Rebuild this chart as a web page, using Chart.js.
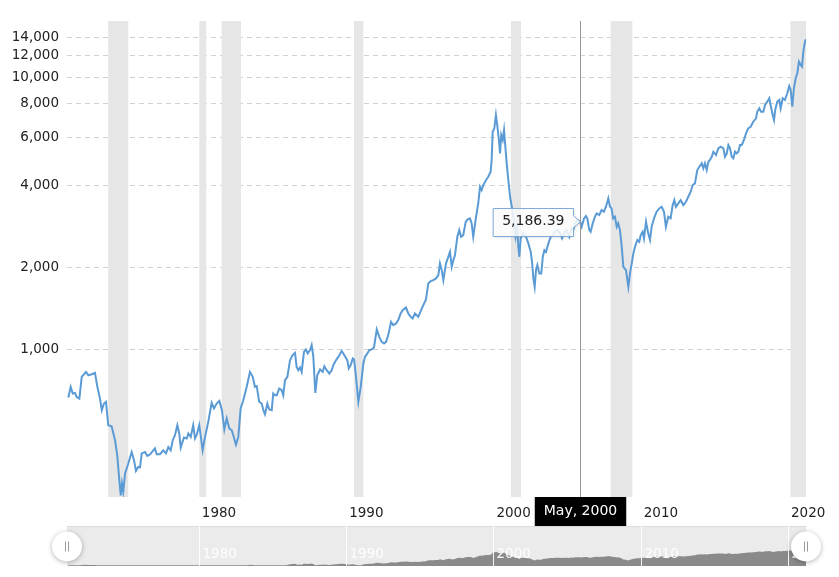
<!DOCTYPE html>
<html>
<head>
<meta charset="utf-8">
<script src="https://cdn.jsdelivr.net/npm/chart.js@4.4.1/dist/chart.umd.min.js"></script>
<style>
  html, body { margin: 0; padding: 0; background: #fff; }
  canvas { display: block; }
</style>
</head>
<body>
<canvas id="chart" width="839" height="577"></canvas>
<script>
// dates as decimal years
const years = [
  1971.14,1971.30,1971.44,1971.59,1971.71,1971.89,1972.05,1972.34,1972.50,1972.73,
  1972.95,1973.11,1973.29,1973.41,1973.56,1973.70,1973.85,1974.08,1974.31,1974.46,
  1974.60,1974.70,1974.78,1974.87,1974.99,1975.21,1975.44,1975.60,1975.73,1975.89,
  1976.01,1976.12,1976.35,1976.50,1976.68,1977.02,1977.14,1977.36,1977.59,1977.77,
  1977.93,1978.09,1978.23,1978.38,1978.54,1978.67,1978.77,1978.99,1979.18,1979.29,
  1979.45,1979.62,1979.74,1979.85,1980.03,1980.26,1980.42,1980.64,1980.87,1981.03,
  1981.21,1981.39,1981.57,1981.73,1981.89,1982.07,1982.23,1982.34,1982.52,1982.68,
  1982.84,1983.02,1983.25,1983.47,1983.66,1983.81,1983.93,1984.10,1984.27,1984.38,
  1984.49,1984.65,1984.78,1984.95,1985.05,1985.17,1985.29,1985.46,1985.63,1985.73,
  1985.85,1986.01,1986.19,1986.37,1986.53,1986.64,1986.75,1986.87,1986.98,1987.14,
  1987.27,1987.39,1987.55,1987.66,1987.77,1987.91,1988.04,1988.23,1988.41,1988.52,
  1988.68,1988.86,1989.02,1989.13,1989.31,1989.47,1989.70,1989.92,1990.08,1990.18,
  1990.31,1990.45,1990.54,1990.67,1990.83,1990.99,1991.17,1991.28,1991.44,1991.57,
  1991.74,1991.89,1992.08,1992.25,1992.41,1992.57,1992.71,1992.86,1993.05,1993.20,
  1993.39,1993.54,1993.70,1993.84,1994.06,1994.22,1994.38,1994.52,1994.67,1994.90,
  1995.15,1995.42,1995.58,1995.74,1995.92,1996.10,1996.26,1996.37,1996.49,1996.60,
  1996.78,1996.90,1997.05,1997.17,1997.28,1997.39,1997.55,1997.68,1997.80,1997.95,
  1998.12,1998.25,1998.41,1998.52,1998.63,1998.82,1998.97,1999.09,1999.20,1999.31,
  1999.50,1999.65,1999.81,1999.88,1999.95,2000.06,2000.17,2000.26,2000.36,2000.45,
  2000.53,2000.63,2000.72,2000.81,2000.90,2001.01,2001.13,2001.26,2001.40,2001.50,
  2001.60,2001.69,2001.76,2001.85,2002.03,2002.21,2002.37,2002.53,2002.62,2002.71,
  2002.80,2002.89,2002.98,2003.12,2003.25,2003.35,2003.46,2003.57,2003.73,2003.89,
  2004.07,2004.18,2004.34,2004.52,2004.66,2004.79,2004.97,2005.15,2005.31,2005.42,
  2005.54,2005.69,2005.88,2005.99,2006.15,2006.28,2006.37,2006.51,2006.60,2006.74,
  2006.89,2007.01,2007.18,2007.34,2007.50,2007.64,2007.80,2007.91,2008.02,2008.13,
  2008.25,2008.37,2008.47,2008.59,2008.71,2008.82,2009.00,2009.16,2009.27,2009.39,
  2009.50,2009.61,2009.77,2009.90,2010.00,2010.13,2010.22,2010.36,2010.51,2010.63,
  2010.74,2010.90,2011.08,2011.26,2011.42,2011.58,2011.71,2011.87,2012.03,2012.17,
  2012.28,2012.39,2012.55,2012.71,2012.89,2013.07,2013.23,2013.39,2013.53,2013.68,
  2013.84,2013.98,2014.14,2014.25,2014.36,2014.48,2014.59,2014.70,2014.82,2014.93,
  2015.11,2015.27,2015.43,2015.61,2015.72,2015.84,2015.95,2016.06,2016.18,2016.29,
  2016.40,2016.52,2016.63,2016.74,2016.86,2017.01,2017.15,2017.30,2017.46,2017.64,
  2017.83,2017.91,2018.05,2018.17,2018.32,2018.44,2018.59,2018.73,2018.84,2018.96,
  2019.05,2019.13,2019.27,2019.41,2019.50,2019.64,2019.79,2019.95,2020.08,2020.18,
  2020.29,2020.40,2020.52,2020.63,2020.74,2020.86,2020.95,2021.04,2021.15,2021.22
];
const values = [
  666,729,689,692,669,660,793,827,804,811,
  820,729,660,598,633,642,527,522,464,409,
  331,291,322,300,350,381,420,392,358,370,
  369,415,420,406,411,433,412,412,426,415,
  438,426,464,484,527,491,436,475,471,491,
  477,527,471,484,527,426,477,542,637,607,
  633,647,598,508,558,512,505,484,447,477,
  607,651,729,827,793,729,733,642,633,598,
  578,633,602,598,689,679,679,719,709,679,
  771,793,913,953,971,863,839,859,827,980,
  1000,967,994,1037,945,692,804,844,827,868,
  839,816,839,876,913,939,988,945,913,852,
  876,927,919,793,642,729,888,939,967,994,
  1000,1017,1184,1113,1066,1052,1066,1129,1264,1228,
  1246,1282,1356,1395,1427,1356,1318,1300,1356,1318,
  1419,1527,1748,1783,1798,1824,1876,2071,1957,1798,
  2071,2161,2285,2013,2130,2222,2594,2745,2594,2632,
  2945,3006,3031,2905,2594,3073,3443,3961,3853,4018,
  4193,4311,4498,4966,6310,6494,7269,6677,5967,5256,
  6137,5883,6402,5558,4829,4193,3639,3308,2938,2610,
  2840,2384,2190,2559,2670,2594,2453,2285,2100,1824,
  1699,1957,2041,1903,1903,2190,2317,2285,2453,2594,
  2632,2706,2745,2670,2559,2670,2745,2594,2786,2745,
  2905,2987,2945,2822,3031,3091,3031,2745,2706,2905,
  3073,3162,3117,3252,3206,3345,3591,3345,3299,3031,
  3073,2822,2905,2745,2384,2013,1957,1699,1903,2071,
  2254,2384,2523,2487,2632,2706,2559,2945,2670,2523,
  2822,3031,3206,3299,3345,3206,2822,3073,3031,3392,
  3539,3345,3443,3539,3392,3488,3639,3797,4018,4076,
  4562,4691,4829,4628,4829,4562,4895,4966,5106,5327,
  5180,5483,5558,5483,5106,5256,5638,5483,5106,5037,
  5327,5256,5327,5638,5638,5883,6227,6494,6583,6867,
  7069,7472,7690,7472,7472,7910,8136,8371,7796,7269,
  6966,7583,8136,8253,7690,8371,8253,8734,9290,8982,
  7796,9113,9916,10345,11412,11098,10940,12420,13520,13800
];

const yTickValues = [1000, 2000, 4000, 6000, 8000, 10000, 12000, 14000];
const xTickYears = [1980, 1990, 2000, 2010, 2020];

// recession shading (start, end) in decimal years
const recessionStarts = [1973.85, 1980.03, 1981.55, 1990.53, 2001.19, 2007.96, 2020.17];
const recessionEnds   = [1975.21, 1980.50, 1982.86, 1991.17, 2001.87, 2009.43, 2021.22];

// hover state frozen in the picture
const crosshairYear = 2005.88;
const crosshairLabel = 'May, 2000';
const tooltipText = '5,186.39';

const FONT = 'DejaVu Sans, Verdana, sans-serif';
const LINE_COLOR = '#5b9bd5';

const recessionBands = {
  id: 'recessionBands',
  beforeDatasetsDraw(chart) {
    const { ctx, chartArea, scales: { x } } = chart;
    ctx.save();
    ctx.fillStyle = '#e6e6e6';
    recessionStarts.forEach((s, i) => {
      const x0 = Math.max(chartArea.left, x.getPixelForValue(s));
      const x1 = Math.min(chartArea.right, x.getPixelForValue(recessionEnds[i]));
      ctx.fillRect(x0, chartArea.top, x1 - x0, chartArea.bottom - chartArea.top);
    });
    ctx.restore();
  }
};

const hoverMarks = {
  id: 'hoverMarks',
  afterDatasetsDraw(chart) {
    const { ctx, chartArea, scales: { x, y } } = chart;
    const px = Math.round(x.getPixelForValue(crosshairYear)) + 0.5;

    // crosshair
    ctx.save();
    ctx.strokeStyle = '#999';
    ctx.lineWidth = 1;
    ctx.beginPath();
    ctx.moveTo(px, chartArea.top);
    ctx.lineTo(px, chartArea.bottom);
    ctx.stroke();

    // date label under the axis
    ctx.font = '14px ' + FONT;
    const lw = ctx.measureText(crosshairLabel).width + 18;
    ctx.fillStyle = '#000';
    ctx.fillRect(px - lw / 2, chartArea.bottom, lw, 30);
    ctx.fillStyle = '#fff';
    ctx.textAlign = 'center';
    ctx.textBaseline = 'middle';
    ctx.fillText(crosshairLabel, px, chartArea.bottom + 14);

    // tooltip anchored on the line at the crosshair
    let idx = 0;
    years.forEach((yr, i) => { if (Math.abs(yr - crosshairYear) < Math.abs(years[idx] - crosshairYear)) idx = i; });
    const ay = y.getPixelForValue(values[idx]);
    const tw = ctx.measureText(tooltipText).width + 18;
    const th = 28;
    const right = px - 7;
    const left = right - tw;
    const top = Math.round(ay - th / 2) + 0.5;
    const bottom = top + th;
    ctx.beginPath();
    ctx.moveTo(left, top);
    ctx.lineTo(right, top);
    ctx.lineTo(right, ay - 6);
    ctx.lineTo(px, ay);
    ctx.lineTo(right, ay + 6);
    ctx.lineTo(right, bottom);
    ctx.lineTo(left, bottom);
    ctx.closePath();
    ctx.shadowColor = 'rgba(0,0,0,0.15)';
    ctx.shadowBlur = 3;
    ctx.shadowOffsetX = 1;
    ctx.shadowOffsetY = 1;
    ctx.fillStyle = 'rgba(255,255,255,0.85)';
    ctx.fill();
    ctx.shadowColor = 'transparent';
    ctx.strokeStyle = '#7fa9d8';
    ctx.stroke();
    ctx.fillStyle = '#222';
    ctx.fillText(tooltipText, (left + right) / 2, ay);
    ctx.restore();
  }
};

const navigator = {
  id: 'navigator',
  afterDraw(chart) {
    const { ctx, chartArea, scales: { x, nav } } = chart;
    const top = 526, bottom = 566, h = bottom - top;
    const left = chartArea.left, right = chartArea.right;
    ctx.save();
    ctx.fillStyle = '#ebebeb';
    ctx.fillRect(left, top, right - left, h);
    ctx.strokeStyle = '#dcdcdc';
    ctx.beginPath();
    ctx.moveTo(left, top + 0.5);
    ctx.lineTo(right, top + 0.5);
    ctx.stroke();

    // compressed series
    ctx.fillStyle = '#8a8a8a';
    ctx.beginPath();
    ctx.moveTo(x.getPixelForValue(years[0]), bottom);
    years.forEach((yr, i) => {
      let f = (nav.bottom - nav.getPixelForValue(values[i])) / (nav.bottom - nav.top);
      f = Math.max(0.02, Math.min(1, f));
      ctx.lineTo(x.getPixelForValue(yr), bottom - f * h);
    });
    ctx.lineTo(x.getPixelForValue(years[years.length - 1]), bottom);
    ctx.closePath();
    ctx.fill();

    // decade lines and labels
    ctx.strokeStyle = 'rgba(255,255,255,0.9)';
    ctx.fillStyle = 'rgba(255,255,255,0.95)';
    ctx.font = '13.5px ' + FONT;
    ctx.textAlign = 'left';
    ctx.textBaseline = 'middle';
    xTickYears.forEach(yr => {
      const gx = Math.round(x.getPixelForValue(yr)) + 0.5;
      ctx.beginPath();
      ctx.moveTo(gx, top);
      ctx.lineTo(gx, bottom);
      ctx.stroke();
      ctx.fillText(String(yr), gx + 3, 554);
    });

    // handles
    [left, right].forEach(hx => {
      ctx.save();
      ctx.shadowColor = 'rgba(0,0,0,0.3)';
      ctx.shadowBlur = 5;
      ctx.shadowOffsetY = 1;
      ctx.fillStyle = '#fff';
      ctx.beginPath();
      ctx.arc(hx, 546.5, 15, 0, Math.PI * 2);
      ctx.fill();
      ctx.restore();
      ctx.strokeStyle = '#999';
      ctx.lineWidth = 1;
      ctx.beginPath();
      ctx.moveTo(hx - 1.5, 541.5); ctx.lineTo(hx - 1.5, 551.5);
      ctx.moveTo(hx + 1.5, 541.5); ctx.lineTo(hx + 1.5, 551.5);
      ctx.stroke();
    });
    ctx.restore();
  }
};

const ctx = document.getElementById('chart').getContext('2d');
new Chart(ctx, {
  type: 'line',
  data: {
    datasets: [{
      data: years.map((yr, i) => ({ x: yr, y: values[i] })),
      borderColor: LINE_COLOR,
      borderWidth: 2,
      pointRadius: 0,
      tension: 0,
      fill: false,
      yAxisID: 'y'
    }]
  },
  options: {
    responsive: false,
    animation: false,
    devicePixelRatio: 1,
    layout: { padding: { left: 0, right: 33, top: 21, bottom: 50 } },
    plugins: {
      legend: { display: false },
      tooltip: { enabled: false }
    },
    scales: {
      x: {
        type: 'linear',
        min: 1971.05,
        max: 2021.22,
        afterFit(s) { s.height = 30; },
        afterBuildTicks(s) { s.ticks = xTickYears.map(v => ({ value: v })); },
        grid: { display: false, drawTicks: false },
        border: { display: false },
        ticks: {
          align: 'start',
          labelOffset: 3,
          padding: 8,
          maxRotation: 0,
          autoSkip: false,
          color: '#222',
          font: { family: FONT, size: 13.5 },
          callback: v => String(v)
        }
      },
      y: {
        type: 'logarithmic',
        position: 'left',
        min: 287,
        max: 16100,
        afterFit(s) { s.width = 67; },
        afterBuildTicks(s) { s.ticks = yTickValues.map(v => ({ value: v })); },
        grid: { color: '#d0d0d0', drawTicks: false },
        border: { display: false, dash: [5, 4] },
        ticks: {
          padding: 8,
          autoSkip: false,
          color: '#222',
          font: { family: FONT, size: 13.5 },
          callback: v => Number(v).toLocaleString('en-US')
        }
      },
      nav: {
        type: 'logarithmic',
        position: 'left',
        display: false,
        min: 680,
        max: 546000
      }
    }
  },
  plugins: [recessionBands, hoverMarks, navigator]
});
</script>
</body>
</html>
